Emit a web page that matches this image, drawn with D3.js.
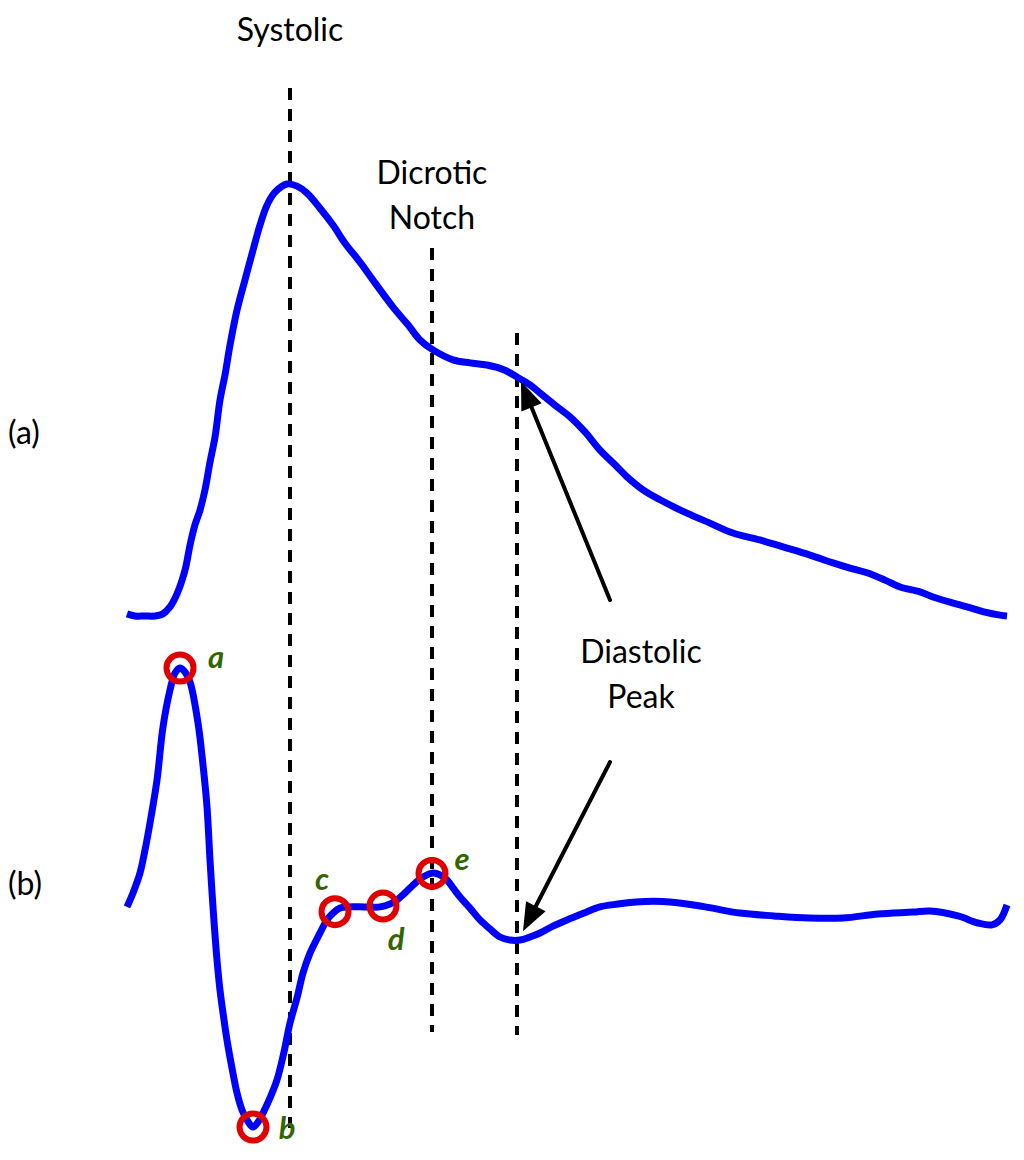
<!DOCTYPE html>
<html>
<head>
<meta charset="utf-8">
<script src="https://cdn.jsdelivr.net/npm/d3@7"></script>
<style>
  html, body { margin: 0; padding: 0; background: #fff; }
  svg { display: block; }
  text { font-family: Lato, "Open Sans", sans-serif; }
</style>
</head>
<body>
<svg id="chart" width="1024" height="1160"></svg>
<script>
// ---- Data (time in samples, amplitude normalized) ----
// (a) PPG waveform
const ppgTime = [0, 8, 18, 28, 36, 43, 50, 58, 63, 68, 73, 78, 83, 88, 93, 98, 103, 110, 118, 126, 133, 140, 148, 160, 170, 180, 193, 206, 218, 233, 248, 266, 281, 293, 306, 326, 343, 360, 378, 390, 403, 413, 428, 443, 458, 473, 488, 500, 516, 533, 560, 583, 606, 633, 656, 683, 706, 723, 740, 758, 773, 793, 806, 823, 840, 858, 873, 880];
const ppgValue = [0.005, 0, 0, 0, 0.005, 0.021, 0.051, 0.106, 0.164, 0.211, 0.245, 0.292, 0.356, 0.414, 0.5, 0.558, 0.627, 0.708, 0.778, 0.847, 0.905, 0.951, 0.981, 1.0, 0.995, 0.979, 0.944, 0.905, 0.863, 0.819, 0.771, 0.715, 0.674, 0.639, 0.616, 0.593, 0.586, 0.581, 0.569, 0.553, 0.535, 0.516, 0.488, 0.461, 0.426, 0.384, 0.35, 0.322, 0.292, 0.269, 0.238, 0.215, 0.192, 0.176, 0.16, 0.141, 0.123, 0.111, 0.1, 0.083, 0.067, 0.056, 0.044, 0.032, 0.021, 0.009, 0.002, 0];

// (b) second derivative (APG) waveform
const apgTime = [0, 6, 13, 18, 23, 30, 36, 43, 48, 53, 58, 63, 71, 76, 80, 83, 86, 90, 93, 97, 100, 105, 110, 115, 120, 126, 131, 136, 143, 150, 157, 163, 170, 176, 183, 193, 200, 206, 213, 220, 238, 253, 263, 270, 278, 286, 296, 306, 313, 320, 326, 333, 343, 353, 363, 373, 383, 393, 403, 413, 426, 440, 457, 473, 491, 509, 543, 578, 613, 647, 682, 716, 751, 786, 803, 831, 851, 865, 873, 880];
const apgValue = [-0.008, 0.051, 0.135, 0.232, 0.346, 0.527, 0.751, 0.907, 0.979, 1.0, 0.983, 0.941, 0.768, 0.591, 0.414, 0.19, -0.008, -0.232, -0.359, -0.485, -0.57, -0.688, -0.793, -0.865, -0.907, -0.937, -0.916, -0.878, -0.814, -0.738, -0.62, -0.498, -0.392, -0.287, -0.203, -0.118, -0.063, -0.034, -0.013, -0.008, -0.008, -0.008, 0.004, 0.021, 0.051, 0.084, 0.118, 0.135, 0.127, 0.105, 0.072, 0.034, -0.013, -0.063, -0.101, -0.135, -0.148, -0.148, -0.135, -0.118, -0.089, -0.063, -0.034, -0.008, 0.004, 0.013, 0.013, -0.008, -0.034, -0.046, -0.055, -0.055, -0.038, -0.03, -0.025, -0.046, -0.076, -0.084, -0.063, 0];

// APG fiducial points
const waveLabels = ["a", "b", "c", "d", "e"];
const waveTimes = [53, 126, 208, 256, 305];

// Vertical event markers
const eventNames = ["Systolic", "Dicrotic Notch", "Diastolic Peak"];
const eventTimes = [163, 305, 390];

// Diastolic peak annotation target time
const diastolicTarget = 394;

// Panel labels
const panelLabels = ["(a)", "(b)"];

// ---- Layout ----
const svg = d3.select("#chart");
const x = d3.scaleLinear().domain([0, 880]).range([127, 1007]);
const yA = d3.scaleLinear().domain([0, 1]).range([616, 184]);
const yB = d3.scaleLinear().domain([0, 1]).range([905, 668]);

const blue = "#0000ff", red = "#e00000", green = "#336600";

function interp(ts, vs, t) {
  for (let i = 0; i < ts.length - 1; i++) {
    if (t >= ts[i] && t <= ts[i + 1]) {
      const f = (t - ts[i]) / (ts[i + 1] - ts[i]);
      return vs[i] + f * (vs[i + 1] - vs[i]);
    }
  }
  return vs[vs.length - 1];
}

// Dashed vertical lines
const dashExtents = [[88, 1128], [248, 1032], [333, 1035]];
svg.append("g").selectAll("line").data(eventTimes).join("line")
  .attr("x1", d => x(d)).attr("x2", d => x(d))
  .attr("y1", (d, i) => dashExtents[i][0]).attr("y2", (d, i) => dashExtents[i][1])
  .attr("stroke", "#000").attr("stroke-width", 4)
  .attr("stroke-dasharray", "12,9");

// Waveforms
const lineA = d3.line().x(d => x(d[0])).y(d => yA(d[1])).curve(d3.curveCatmullRom.alpha(0.5));
const lineB = d3.line().x(d => x(d[0])).y(d => yB(d[1])).curve(d3.curveCatmullRom.alpha(0.5));
svg.append("path").datum(d3.zip(ppgTime, ppgValue)).attr("d", lineA)
  .attr("fill", "none").attr("stroke", blue).attr("stroke-width", 7)
  .attr("stroke-linejoin", "round");
svg.append("path").datum(d3.zip(apgTime, apgValue)).attr("d", lineB)
  .attr("fill", "none").attr("stroke", blue).attr("stroke-width", 7)
  .attr("stroke-linejoin", "round");

// Fiducial circles
const circ = waveTimes.map(t => [t, interp(apgTime, apgValue, t)]);
svg.append("g").selectAll("circle").data(circ).join("circle")
  .attr("cx", d => x(d[0])).attr("cy", d => yB(d[1])).attr("r", 13.5)
  .attr("fill", "none").attr("stroke", red).attr("stroke-width", 6);

// Fiducial letters (offsets relative to circle)
const letterOffsets = [[36, -8], [34, 4], [-13, -30], [13, 36], [30, -11]];
svg.append("g").selectAll("text").data(circ).join("text")
  .attr("x", (d, i) => x(d[0]) + letterOffsets[i][0])
  .attr("y", (d, i) => yB(d[1]) + letterOffsets[i][1])
  .attr("text-anchor", "middle").attr("dominant-baseline", "middle")
  .attr("font-size", 31).attr("font-weight", "bold").attr("font-style", "italic")
  .attr("fill", green).text((d, i) => waveLabels[i]);

// Text labels
const fs = 32;
function label(lines, cx, baseline, anchor) {
  const t = svg.append("text").attr("font-size", fs).attr("fill", "#000")
    .attr("text-anchor", anchor || "middle");
  lines.forEach((s, i) => {
    t.append("tspan").attr("x", cx).attr("y", baseline + i * 45).text(s);
  });
}
label([eventNames[0]], x(eventTimes[0]), 41);
label(eventNames[1].split(" "), x(eventTimes[1]), 184);
label(eventNames[2].split(" "), 641, 663);
label([panelLabels[0]], 8, 444, "start");
label([panelLabels[1]], 8, 895, "start");

// Arrows
function arrow(x0, y0, x1, y1) {
  const dx = x1 - x0, dy = y1 - y0, L = Math.hypot(dx, dy);
  const ux = dx / L, uy = dy / L, hl = 28, hw = 22;
  const bx = x1 - ux * hl, by = y1 - uy * hl;
  svg.append("line").attr("x1", x0).attr("y1", y0).attr("x2", bx + ux * 2).attr("y2", by + uy * 2)
    .attr("stroke", "#000").attr("stroke-width", 4).attr("stroke-linecap", "round");
  svg.append("path")
    .attr("d", `M${x1},${y1}L${bx - uy * hw / 2},${by + ux * hw / 2}L${bx + uy * hw / 2},${by - ux * hw / 2}Z`)
    .attr("fill", "#000");
}
const tipA = [x(diastolicTarget), yA(interp(ppgTime, ppgValue, diastolicTarget)) + 2];
const tipB = [x(diastolicTarget + 2), yB(interp(apgTime, apgValue, diastolicTarget + 2)) - 8];
arrow(610, 600, tipA[0], tipA[1]);
arrow(610, 762, tipB[0], tipB[1]);
</script>
</body>
</html>
